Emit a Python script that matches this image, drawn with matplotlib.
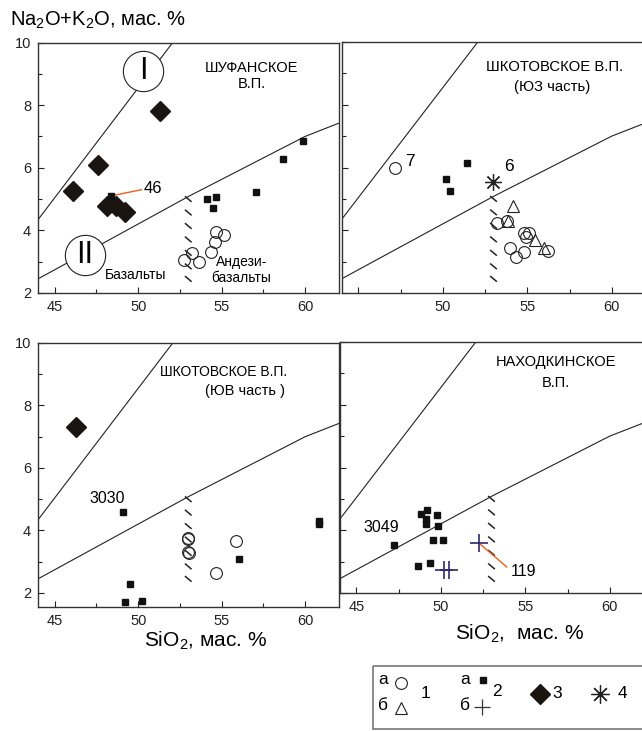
import numpy as np
import matplotlib.pyplot as plt
from matplotlib.patches import Rectangle
from matplotlib.collections import LineCollection

plt.rcParams['font.family'] = ['Liberation Sans', 'DejaVu Sans']
plt.rcParams['mathtext.fontset'] = 'custom'
plt.rcParams['mathtext.rm'] = 'Liberation Sans'

# boundary lines (same in every panel)
line1_x = [44.0, 52.07]
line1_y = [4.34, 10.0]
line2_x = [44.0, 53.0, 60.0, 62.0]
line2_y = [2.45, 5.08, 7.0, 7.42]
# basalt / andesibasalt divider drawn as short dashes
hatch_x = 53.0
hatch_y = [5.0, 4.57, 4.14, 3.71, 3.28, 2.85, 2.45]

# Шуфанское
shuf_dia_x = [46.1, 47.6, 51.3, 48.15, 48.7, 49.2]
shuf_dia_y = [5.25, 6.08, 7.8, 4.77, 4.78, 4.6]
shuf_sq_x = [48.4, 54.1, 54.65, 54.5, 57.05, 58.65, 59.85]
shuf_sq_y = [5.1, 5.0, 5.07, 4.72, 5.22, 6.28, 6.86]
shuf_circ_x = [52.75, 53.25, 53.65, 54.35, 54.6, 54.65, 55.15]
shuf_circ_y = [3.06, 3.27, 2.98, 3.3, 3.62, 3.95, 3.84]

# Шкотовское, ЮЗ часть
sw_circ_x = [47.14, 53.2, 53.8, 54.83, 55.13, 54.9, 53.98, 54.34, 54.83, 56.21]
sw_circ_y = [5.99, 4.23, 4.31, 3.91, 3.91, 3.78, 3.43, 3.14, 3.32, 3.34]
sw_tri_x = [54.14, 53.85, 55.43, 55.98]
sw_tri_y = [4.76, 4.28, 3.70, 3.43]
sw_sq_x = [50.16, 50.45, 51.44]
sw_sq_y = [5.64, 5.24, 6.15]
sw_star_x = [52.96]
sw_star_y = [5.55]

# Шкотовское, ЮВ часть
se_dia_x = [46.26]
se_dia_y = [7.3]
se_sq_x = [49.1, 49.5, 49.24, 50.2, 56.04, 60.84, 60.84]
se_sq_y = [4.6, 2.29, 1.72, 1.75, 3.08, 4.3, 4.22]
se_circ_x = [52.96, 52.98, 53.0, 53.02, 55.86, 54.66]
se_circ_y = [3.75, 3.72, 3.3, 3.27, 3.66, 2.63]

# Находкинское
nk_sq_x = [47.2, 48.84, 49.2, 49.1, 49.1, 49.8, 49.84, 49.56, 50.1, 48.66, 49.34]
nk_sq_y = [3.54, 4.52, 4.65, 4.36, 4.2, 4.49, 4.15, 3.69, 3.69, 2.86, 2.95]
nk_cross_x = [52.26, 50.2, 50.5]
nk_cross_y = [3.59, 2.74, 2.74]

ORANGE = '#e8601e'
NAVY = '#2e2a6e'

W, H = 642, 731
fig = plt.figure(figsize=(W / 100, H / 100), dpi=100)


def px_axes(left, top, right, bottom):
    return fig.add_axes([left / W, 1 - bottom / H, (right - left) / W, (bottom - top) / H])


def frame(ax, ylo, ylabels=True, skip45=False):
    ax.plot(line1_x, line1_y, color='#222222', lw=0.8, zorder=2)
    ax.plot(line2_x, line2_y, color='#222222', lw=0.8, zorder=2)
    segs = [[(hatch_x - 0.2, y + 0.09), (hatch_x + 0.2, y - 0.09)] for y in hatch_y]
    ax.add_collection(LineCollection(segs, colors='#222222', linewidths=1.1, zorder=2))
    ax.set_xlim(44, 62)
    ax.set_ylim(ylo, 10)
    ax.set_xticks([45, 50, 55, 60])
    ax.set_xticks([47.5, 52.5, 57.5], minor=True)
    ax.set_yticks([2, 4, 6, 8, 10])
    ax.set_yticks([3, 5, 7, 9], minor=True)
    ax.tick_params(which='both', direction='in', width=0.8, labelsize=10.5,
                   colors='#222222')
    ax.tick_params(which='major', length=4, pad=5)
    ax.tick_params(which='minor', length=3)
    if skip45:
        ax.set_xticklabels(['', '50', '55', '60'])
    if not ylabels:
        ax.set_yticklabels([])
    for s in ax.spines.values():
        s.set_color('#333333')
        s.set_linewidth(1.0)


def squares(ax, x, y):
    ax.plot(x, y, 's', ms=5, color='#111111', zorder=4)


def circles(ax, x, y):
    ax.plot(x, y, 'o', ms=8.5, mfc='none', mec='#222222', mew=0.8, zorder=4)


def diamonds(ax, x, y):
    ax.plot(x, y, 'D', ms=10, mfc='#1a1511', mec='#1a1511', zorder=4)


# --- Шуфанское ---
ax = px_axes(38, 42.5, 338.5, 293)
frame(ax, 2)
diamonds(ax, shuf_dia_x, shuf_dia_y)
squares(ax, shuf_sq_x, shuf_sq_y)
circles(ax, shuf_circ_x, shuf_circ_y)
ax.plot([shuf_sq_x[0] + 0.15, 50.2], [shuf_sq_y[0] + 0.02, 5.3], color=ORANGE, lw=1, zorder=3)
ax.text(50.3, 5.35, '46', fontsize=12, ha='left', va='center')
ax.plot([50.3, 46.8], [9.08, 3.22], 'o', ls='none', ms=29, mfc='white', mec='#222222',
        mew=0.8, zorder=5)
ax.text(50.3, 9.08, 'I', fontsize=22, ha='center', va='center', zorder=6)
ax.text(46.8, 3.22, 'II', fontsize=22, ha='center', va='center', zorder=6)
ax.text(56.8, 9.19, 'ШУФАНСКОЕ', fontsize=10.5, ha='center', va='center')
ax.text(56.8, 8.66, 'В.П.', fontsize=10.5, ha='center', va='center')
ax.text(49.85, 2.58, 'Базальты', fontsize=10, ha='center', va='center')
ax.text(56.2, 3.0, 'Андези-', fontsize=10, ha='center', va='center')
ax.text(56.15, 2.48, 'базальты', fontsize=10, ha='center', va='center')

# --- Шкотовское, ЮЗ часть ---
ax = px_axes(341.5, 42, 645.5, 293)
frame(ax, 2, ylabels=False, skip45=True)
squares(ax, sw_sq_x, sw_sq_y)
circles(ax, sw_circ_x, sw_circ_y)
ax.plot(sw_tri_x, sw_tri_y, '^', ms=9, mfc='none', mec='#222222', mew=0.8, zorder=4)
ax.plot(sw_star_x, sw_star_y, marker=(8, 2, 0), ls='none', ms=12, mew=0.9,
        color='#222222', zorder=4)
ax.text(47.75, 6.2, '7', fontsize=12.5, ha='left', va='center')
ax.text(53.65, 6.04, '6', fontsize=12.5, ha='left', va='center')
ax.text(56.6, 9.19, 'ШКОТОВСКОЕ В.П.', fontsize=10.7, ha='center', va='center')
ax.text(56.5, 8.55, '(ЮЗ часть)', fontsize=10.7, ha='center', va='center')

# --- Шкотовское, ЮВ часть ---
ax = px_axes(38, 343, 338.5, 607)
frame(ax, 1.55)
diamonds(ax, se_dia_x, se_dia_y)
squares(ax, se_sq_x, se_sq_y)
circles(ax, se_circ_x, se_circ_y)
ax.text(48.15, 5.03, '3030', fontsize=11.5, ha='center', va='center')
ax.text(55.1, 9.08, 'ШКОТОВСКОЕ В.П.', fontsize=10, ha='center', va='center')
ax.text(56.4, 8.46, '(ЮВ часть )', fontsize=10.5, ha='center', va='center')

# --- Находкинское ---
ax = px_axes(339.5, 342, 643.5, 593)
frame(ax, 2, ylabels=False)
squares(ax, nk_sq_x, nk_sq_y)
ax.plot(nk_cross_x, nk_cross_y, '+', ms=13, mew=1.2, color=NAVY, zorder=4)
ax.plot([nk_cross_x[0], 53.9], [nk_cross_y[0], 2.83], color=ORANGE, lw=1, zorder=3)
ax.text(54.14, 2.68, '119', fontsize=11.5, ha='left', va='center')
ax.text(46.45, 4.09, '3049', fontsize=11.5, ha='center', va='center')
ax.text(56.83, 9.37, 'НАХОДКИНСКОЕ', fontsize=10.5, ha='center', va='center')
ax.text(56.8, 8.68, 'В.П.', fontsize=10.5, ha='center', va='center')

# axis titles
fig.text(10 / W, 1 - 20 / H, r'Na$_\mathregular{2}$O+K$_\mathregular{2}$O, мас. %',
         fontsize=14.5, ha='left', va='center')
fig.text(206 / W, 1 - 641 / H, r'SiO$_\mathregular{2}$, мас. %',
         fontsize=15, ha='center', va='center')
fig.text(520 / W, 1 - 634 / H, r'SiO$_\mathregular{2}$,  мас. %',
         fontsize=15, ha='center', va='center')

# --- legend box ---
lg = fig.add_axes([0, 0, 1, 1], zorder=-1)
lg.set_xlim(0, W)
lg.set_ylim(H, 0)
lg.axis('off')
lg.add_patch(Rectangle((372.5, 665.5), 280, 63, fill=False, ec='#777777', lw=1.2))
lg.plot([401], [683], 'o', ms=8.5, mfc='none', mec='#222222', mew=0.8)
lg.plot([401], [708], '^', ms=9, mfc='none', mec='#222222', mew=0.8)
lg.plot([483], [680], 's', ms=5, color='#111111')
lg.plot([482], [707], '+', ms=12, mew=0.9, color='#333333')
lg.plot([539.5], [693.5], 'D', ms=10, color='#1a1511')
lg.plot([599.5], [693.5], marker=(8, 2, 0), ms=13, mew=0.9, color='#222222')
for tx, ty, s in [(383, 680, 'а'), (383, 706, 'б'), (426, 694, '1'),
                  (465, 680, 'а'), (465, 706, 'б'), (497, 692, '2'),
                  (557, 694, '3'), (622, 694, '4')]:
    lg.text(tx, ty, s, fontsize=12.5, ha='center', va='center')

fig.savefig('out.png', dpi=100)
